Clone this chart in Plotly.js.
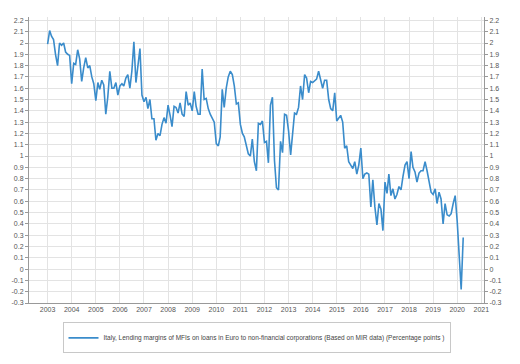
<!DOCTYPE html>
<html><head><meta charset="utf-8">
<script src="https://cdn.plot.ly/plotly-3.0.1.min.js"></script>
<style>body{margin:0;background:#fff}#chart{width:520px;height:364px}</style>
</head><body><div id="chart"></div>
<script>
const startYear = 2003, startMonth = 1;
const seriesName = "Italy, Lending margins of MFIs on loans in Euro to non-financial corporations (Based on MIR data) (Percentage points )";
const margins = [
 1.99,2.11,2.06,2.03,1.90,1.80,2.00,1.98,2.00,1.92,1.90,1.89,
 1.64,1.82,1.81,1.94,1.86,1.66,1.78,1.87,1.78,1.80,1.70,1.64,
 1.49,1.65,1.59,1.67,1.63,1.37,1.52,1.75,1.60,1.60,1.65,1.54,
 1.62,1.64,1.62,1.69,1.72,1.60,1.75,2.01,1.65,1.80,1.95,1.54,
 1.48,1.52,1.42,1.50,1.33,1.33,1.14,1.20,1.18,1.28,1.34,1.29,
 1.45,1.36,1.26,1.44,1.43,1.38,1.47,1.37,1.35,1.57,1.45,1.47,
 1.40,1.57,1.44,1.37,1.37,1.77,1.50,1.51,1.42,1.37,1.33,1.30,
 1.11,1.09,1.17,1.59,1.43,1.60,1.70,1.75,1.72,1.62,1.46,1.47,
 1.28,1.20,1.17,1.10,1.02,1.00,1.15,0.95,0.87,1.29,
 1.28,1.31,1.12,1.13,0.94,1.45,1.52,0.96,0.72,0.70,1.13,1.03,
 1.37,1.36,1.22,1.01,1.20,1.38,1.37,1.43,1.62,1.50,1.72,1.69,
 1.56,1.66,1.65,1.67,1.68,1.75,1.68,1.60,1.67,1.67,1.50,1.42,
 1.40,1.56,1.31,1.34,1.36,1.30,1.07,1.09,0.95,0.92,0.89,0.95,
 0.84,0.92,1.07,0.80,0.84,0.85,0.84,0.55,0.79,0.55,0.39,0.58,
 0.53,0.34,0.77,0.67,0.84,0.65,0.71,0.62,0.66,0.73,0.70,0.82,
 0.92,0.95,0.80,1.04,0.90,0.86,0.77,0.85,0.87,0.87,0.95,0.87,
 0.78,0.68,0.66,0.71,0.58,0.68,0.62,0.40,0.58,0.48,0.47,0.49,
 0.58,0.65,0.42,0.12,-0.18,0.28
];
const dates = margins.map((v,i)=>{
  const m = startMonth - 1 + i;
  const y = startYear + Math.floor(m/12);
  const mm = (m%12)+1;
  return y + "-" + String(mm).padStart(2,"0") + "-01";
});
const yTicks = [-0.3,-0.2,-0.1,0,0.1,0.2,0.3,0.4,0.5,0.6,0.7,0.8,0.9,1,1.1,1.2,1.3,1.4,1.5,1.6,1.7,1.8,1.9,2,2.1,2.2];
const yTickText = yTicks.map(v=>String(v));
const xTickYears = [2003,2004,2005,2006,2007,2008,2009,2010,2011,2012,2013,2014,2015,2016,2017,2018,2019,2020,2021];

const tickFont = {family:"Liberation Sans, Arial, sans-serif", size:7, color:"#555"};
const yRange = [-0.3, 2.23];
const traces = [
 {x: dates, y: margins, type:"scatter", mode:"lines", name: seriesName,
  line:{color:"#3a8ccb", width:1.6}},
 {x:[null], y:[null], type:"scatter", mode:"lines", yaxis:"y2", showlegend:false, hoverinfo:"skip"}
];
const layout = {
 width:520, height:364,
 margin:{l:29, r:36, t:17, b:60},
 paper_bgcolor:"#fff", plot_bgcolor:"#fff",
 showlegend:true,
 legend:{orientation:"h", x:0.5, xanchor:"center", y:-0.118, yanchor:"middle",
   bordercolor:"#c8c8c8", borderwidth:1, font:{family:"Liberation Sans, Arial, sans-serif", size:6.5, color:"#444"},
   itemwidth:30, tracegroupgap:0},
 xaxis:{type:"date", range:["2002-03-25","2021-02-10"],
   tickvals: xTickYears.map(y=>y+"-01-01"), ticktext: xTickYears.map(String),
   showgrid:true, gridcolor:"#e3e3e3", gridwidth:1,
   showline:true, linecolor:"#999", linewidth:1, ticks:"", tickfont:tickFont, zeroline:false},
 yaxis:{range:yRange, tickvals:yTicks, ticktext:yTickText, showgrid:true, gridcolor:"#e3e3e3",
   showline:true, linecolor:"#999", linewidth:1, ticks:"outside", ticklen:3, tickcolor:"#999",
   tickfont:tickFont, zeroline:false},
 yaxis2:{range:yRange, tickvals:yTicks, ticktext:yTickText, overlaying:"y", side:"right",
   showgrid:false, showline:true, linecolor:"#999", linewidth:1, ticks:"outside", ticklen:3, tickcolor:"#999",
   tickfont:tickFont, zeroline:false}
};
Plotly.newPlot("chart", traces, layout, {displayModeBar:false, staticPlot:true});
</script></body></html>
